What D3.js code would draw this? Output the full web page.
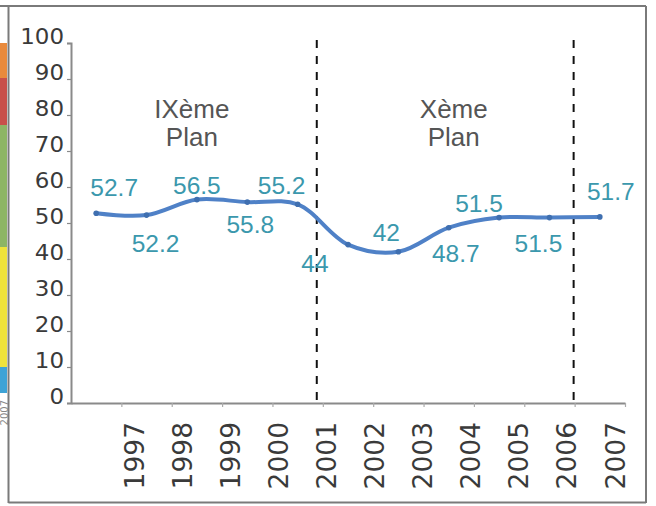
<!DOCTYPE html>
<html><head><meta charset="utf-8">
<script src="https://cdn.jsdelivr.net/npm/d3@7/dist/d3.min.js"></script>
<style>html,body{margin:0;padding:0;background:#fff}svg{display:block}</style>
</head><body>
<svg id="chart" width="656" height="506"></svg>
<script>
// ---- data ----
const years = ["1997","1998","1999","2000","2001","2002","2003","2004","2005","2006","2007"];
const values = [52.7, 52.2, 56.5, 55.8, 55.2, 44, 42, 48.7, 51.5, 51.5, 51.7];
const valueLabels = ["52.7","52.2","56.5","55.8","55.2","44","42","48.7","51.5","51.5","51.7"];
const yTicks = [0, 10, 20, 30, 40, 50, 60, 70, 80, 90, 100];
const planNames = [["IXème", "Plan"], ["Xème", "Plan"]];
const planLabelYears = [1999.4, 2004.6];
const planBoundaries = [2001.88, 2006.98];
// label offsets from each point (layout only)
const labelOffsets = [[18,-17],[9,37],[0,-6],[3,31],[-16,-10],[-33,27],[-12,-11],[7,34],[-20,-6],[-11,34],[11,-17]];
// decorative strip on the left edge (from the source page)
const stripColors = ["#e98a3c","#c8504a","#8db564","#efe23a","#3ea3d6"];
const stripBounds = [43, 78, 125, 247, 367, 393];

// ---- layout ----
const svg = d3.select("#chart");
const mLeft = 71, mRight = 625, mTop = 43, mBottom = 403;

const x = d3.scaleBand().domain(years).range([mLeft, mRight]).padding(0);
const xLin = d3.scaleLinear().domain([1997, 2008]).range([mLeft, mRight]);
const xLabel = d3.scalePoint().domain(years).range([134, 615]);
const y = d3.scaleLinear().domain([0, 100]).range([mBottom, mTop]);

// frame
svg.append("line").attr("x1",0).attr("x2",646).attr("y1",6).attr("y2",6).attr("stroke","#7a7a7a").attr("stroke-width",2);
svg.append("line").attr("x1",8.5).attr("x2",8.5).attr("y1",6).attr("y2",503).attr("stroke","#7a7a7a").attr("stroke-width",2);
svg.append("line").attr("x1",646).attr("x2",646).attr("y1",6).attr("y2",503).attr("stroke","#7a7a7a").attr("stroke-width",2);
svg.append("line").attr("x1",8.5).attr("x2",646).attr("y1",502.5).attr("y2",502.5).attr("stroke","#7a7a7a").attr("stroke-width",2);

// left strip
svg.append("g").selectAll("rect").data(stripColors).join("rect")
  .attr("x",0).attr("width",7)
  .attr("y",(d,i)=>stripBounds[i]).attr("height",(d,i)=>stripBounds[i+1]-stripBounds[i])
  .attr("fill",d=>d);
svg.append("text").attr("transform","translate(4,400) rotate(-90)")
  .attr("text-anchor","end").attr("dy","0.36em").attr("font-family","DejaVu Sans").attr("font-size",10)
  .attr("fill","#888").text("2007");

// y axis
const yAxis = svg.append("g").attr("transform",`translate(${mLeft},0)`)
  .call(d3.axisLeft(y).tickValues(yTicks).tickSize(4).tickSizeOuter(4));
yAxis.select(".domain").attr("stroke","#8a8a8a").attr("stroke-width",2);
yAxis.selectAll(".tick line").attr("stroke","#8a8a8a").attr("stroke-width",1.2);
yAxis.selectAll(".tick text")
  .attr("x",0).attr("dy",0)
  .attr("transform","translate(-7,0) scale(1.12,1)")
  .attr("text-anchor","end")
  .attr("font-family","DejaVu Sans").attr("font-size",20.5).attr("fill","#3a3a3a");

// x axis (ticks at band boundaries)
const xAxis = svg.append("g").attr("transform",`translate(0,${mBottom})`)
  .call(d3.axisBottom(xLin).tickValues(d3.range(1998, 2009)).tickSize(4).tickSizeOuter(0).tickFormat(""));
xAxis.select(".domain").attr("stroke","#8a8a8a").attr("stroke-width",2);
xAxis.selectAll(".tick line").attr("stroke","#aaa").attr("stroke-width",1.2);

// x labels
svg.append("g").selectAll("text").data(years).join("text")
  .attr("transform",d=>`translate(${xLabel(d)},422) rotate(-90)`)
  .attr("text-anchor","end").attr("dy","0.36em")
  .attr("font-family","DejaVu Sans").attr("font-size",26.5).attr("fill","#3a3a3a")
  .text(d=>d);

// plan boundaries
svg.append("g").selectAll("line").data(planBoundaries).join("line")
  .attr("x1",d=>xLin(d)).attr("x2",d=>xLin(d))
  .attr("y1",40).attr("y2",mBottom)
  .attr("stroke","#111").attr("stroke-width",2).attr("stroke-dasharray","8,8");

// plan labels
const pl = svg.append("g").selectAll("text").data(planNames).join("text")
  .attr("text-anchor","middle").attr("font-family","Liberation Sans, Arial, sans-serif")
  .attr("font-size",26).attr("fill","#555");
pl.each(function(d,i){
  const t = d3.select(this);
  t.append("tspan").attr("x",xLin(planLabelYears[i])).attr("y",118).text(d[0]);
  t.append("tspan").attr("x",xLin(planLabelYears[i])).attr("y",146).text(d[1]);
});

// line
const pts = years.map((yr,i)=>[x(yr)+x.bandwidth()/2, y(values[i])]);
svg.append("path").datum(pts)
  .attr("d", d3.line().curve(d3.curveCatmullRom.alpha(0.5)))
  .attr("fill","none").attr("stroke","#4f81c7").attr("stroke-width",4)
  .attr("stroke-linecap","round");
svg.append("g").selectAll("circle").data(pts).join("circle")
  .attr("cx",d=>d[0]).attr("cy",d=>d[1]).attr("r",2.8).attr("fill","#3f6fb0");

// value labels
svg.append("g").selectAll("text").data(valueLabels).join("text")
  .attr("x",(d,i)=>pts[i][0]+labelOffsets[i][0])
  .attr("y",(d,i)=>pts[i][1]+labelOffsets[i][1])
  .attr("text-anchor","middle")
  .attr("font-family","Liberation Sans, Arial, sans-serif").attr("font-size",24.5)
  .attr("fill","#3b98ad")
  .text(d=>d);
</script>
</body></html>
